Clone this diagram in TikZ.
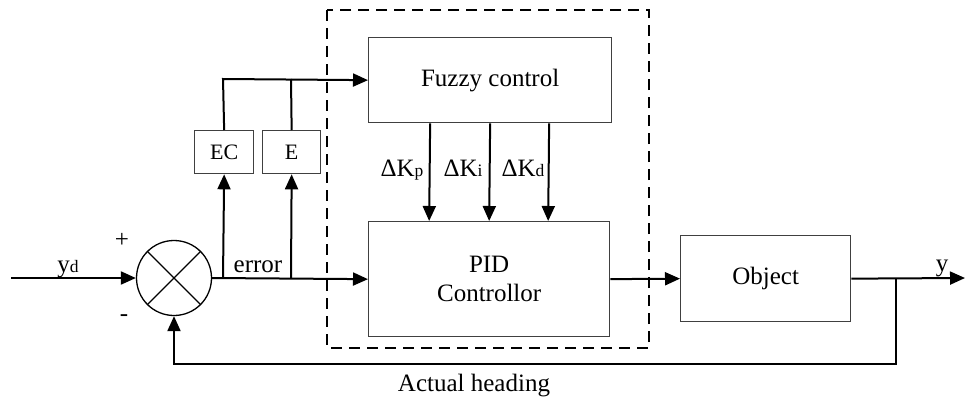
\documentclass[tikz,border=0pt]{standalone}
\usepackage{fontspec}
\setmainfont{Liberation Serif}
\usetikzlibrary{arrows.meta}
\newcommand{\sbs}[1]{{\fontsize{17.5}{20}\selectfont #1}}
\begin{document}
\begin{tikzpicture}[x=1pt,y=-1pt,
  every node/.style={font=\fontsize{25}{29}\selectfont},
  blk/.style={draw=black!75,line width=1.3pt,inner sep=0pt,anchor=north west},
  conn/.style={line width=2pt,black},
  arr/.style={conn,-{Triangle[length=15pt,width=13pt]}},
  lbl/.style={inner sep=0pt}]
\useasboundingbox (0,0) rectangle (965,396);
% dashed region
\draw[line width=1.8pt,dash pattern=on 11pt off 7pt] (327,10) rectangle (649,348);
% blocks
\node[blk,minimum width=243pt,minimum height=85pt] (fz) at (368,37) {};
\node at (fz.center) {Fuzzy control};
\node[blk,minimum width=241pt,minimum height=115pt] (pid) at (368,221) {};
\node[align=center,font=\fontsize{25}{29}\selectfont] at (pid.center) {PID\\Controllor};
\node[blk,minimum width=170pt,minimum height=86pt] (obj) at (680,235) {};
\node at (obj.center) {Object};
\node[blk,minimum width=59pt,minimum height=43pt] (ec) at (194,130) {};
\node[font=\fontsize{22}{25}\selectfont] at (ec.center) {EC};
\node[blk,minimum width=58pt,minimum height=43pt] (e) at (262,130) {};
\node[font=\fontsize{22}{25}\selectfont] at (e.center) {E};
% summing junction
\node[draw=black,line width=1.3pt,circle,minimum size=75pt,inner sep=0pt] (sum) at (174,278) {};
\draw[line width=1.1pt] (sum.north west) -- (sum.south east) (sum.north east) -- (sum.south west);
% coordinates
\coordinate (in) at (11,278);
\coordinate (out) at (965,278);
\coordinate (b1) at (223,278);
\coordinate (b2) at (291,278);
\coordinate (t1) at (223,79);
\coordinate (t2) at (291,79);
\coordinate (fb) at (896,278);
\coordinate (fb1) at (896,364);
\coordinate (fb2) at (174,364);
% connectors
\draw[arr] (in) -- (sum.west);
\draw[arr] (sum.east) -- (pid.west);
\draw[arr] (b1) -- (ec.south);
\draw[arr] (b2) -- (e.south);
\draw[arr] (ec.north) -- (t1) -- (fz.west);
\draw[conn] (e.north) -- (t2);
\draw[arr] ([xshift=-60pt]fz.south) -- ([xshift=-60pt]pid.north);
\draw[arr] (fz.south) -- (pid.north);
\draw[arr] ([xshift=59pt]fz.south) -- ([xshift=59pt]pid.north);
\draw[arr] (pid.east) -- (obj.west);
\draw[arr] (obj.east) -- (out);
\draw[arr] (fb) -- (fb1) -- (fb2) -- (sum.south);
% labels
\node[lbl,anchor=base] at (68,272) {y\sbs{d}};
\node[lbl] at (122,240) {+};
\node[lbl] at (124,318) {-};
\node[lbl,anchor=base] at (258,272) {error};
\node[lbl,anchor=base] at (942,271) {y};
\node[lbl,anchor=base] at (402,176) {ΔK\sbs{p}};
\node[lbl,anchor=base] at (463,176) {ΔK\sbs{i}};
\node[lbl,anchor=base] at (523,176) {ΔK\sbs{d}};
\node[lbl,anchor=base] at (474,391) {Actual heading};
\end{tikzpicture}
\end{document}
